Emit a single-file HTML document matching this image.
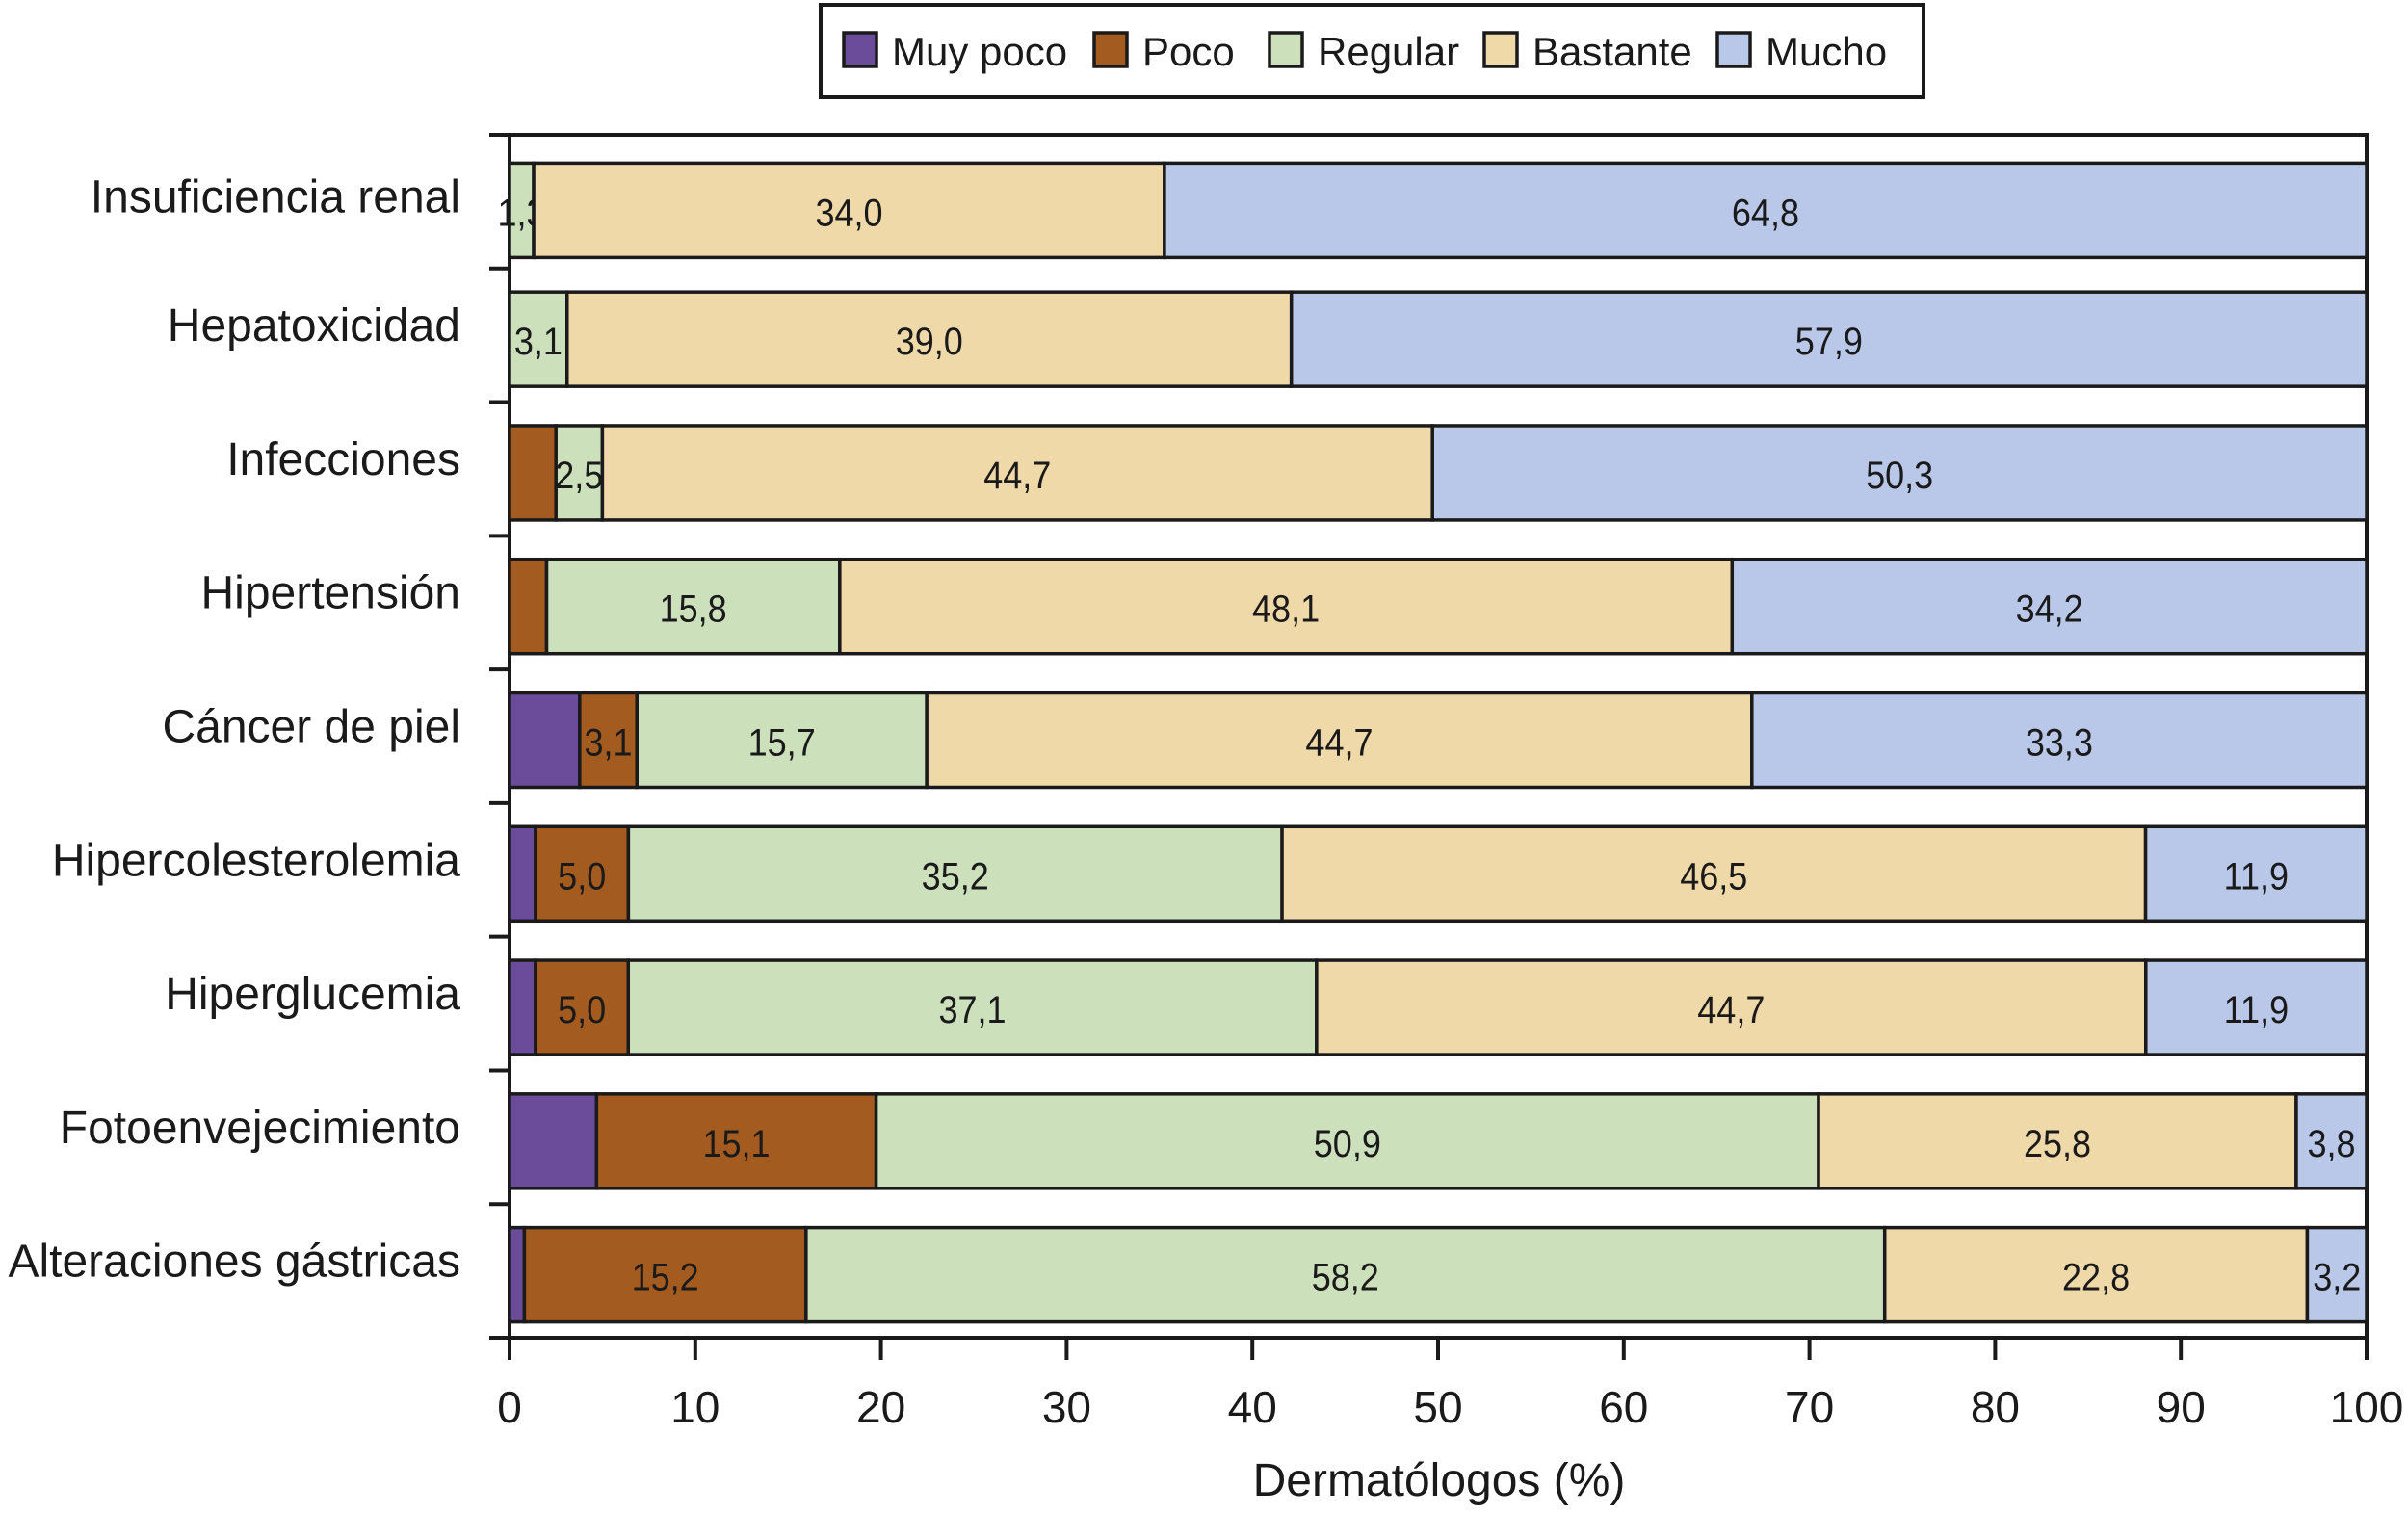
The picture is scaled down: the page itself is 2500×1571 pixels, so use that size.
<!DOCTYPE html>
<html><head><meta charset="utf-8"><style>
html,body{margin:0;padding:0;background:#fff;}
svg{display:block;font-family:"Liberation Sans",sans-serif;}
</style></head><body>
<svg id="chart" width="2500" height="1571" viewBox="0 0 2500 1571" xmlns="http://www.w3.org/2000/svg">
<g id="legend"></g>
<g id="plot"></g>
</svg>
<script>
const categories = ["Insuficiencia renal","Hepatoxicidad","Infecciones","Hipertensión","Cáncer de piel","Hipercolesterolemia","Hiperglucemia","Fotoenvejecimiento","Alteraciones gástricas"];
const seriesNames = ["Muy poco","Poco","Regular","Bastante","Mucho"];
const muyPoco = [0, 0, 0, 0, 3.8, 1.4, 1.4, 4.7, 0.8];
const poco = [0, 0, 2.5, 2.0, 3.1, 5.0, 5.0, 15.1, 15.2];
const regular = [1.3, 3.1, 2.5, 15.8, 15.7, 35.2, 37.1, 50.9, 58.2];
const bastante = [34.0, 39.0, 44.7, 48.1, 44.7, 46.5, 44.7, 25.8, 22.8];
const mucho = [64.8, 57.9, 50.3, 34.2, 33.3, 11.9, 11.9, 3.8, 3.2];
const labelMuyPoco = [false,false,false,false,false,false,false,false,false];
const labelPoco = [false,false,false,false,true,true,true,true,true];
const labelRegular = [true,true,true,true,true,true,true,true,true];
const labelBastante = [true,true,true,true,true,true,true,true,true];
const labelMucho = [true,true,true,true,true,true,true,true,true];
const xTicks = [0,10,20,30,40,50,60,70,80,90,100];

const colors = ["#6b4c9a","#a45b1f","#cce0bc","#f0d9a8","#b9c8e9"];
const series = [muyPoco, poco, regular, bastante, mucho];
const showLabel = [labelMuyPoco, labelPoco, labelRegular, labelBastante, labelMucho];
const NS = "http://www.w3.org/2000/svg";
const L = 529, R = 2457, T = 140, B = 1389;
const xS = v => L + (v / 100) * (R - L);
const band = (B - T) / categories.length;
const yC = i => T + band * (i + 0.5) + 4 + (i === 0 ? 5 : 0);
const barH = 98;
function mk(tag, attrs, parent){const e=document.createElementNS(NS,tag);for(const k in attrs)e.setAttribute(k,attrs[k]);parent.appendChild(e);return e;}
const plot = document.getElementById('plot');
const legend = document.getElementById('legend');
const fmt = v => v.toFixed(1).replace('.', ',');

const frame = mk('rect',{x:L,y:T,width:R-L,height:B-T,fill:'#fff',stroke:'#1a1a1a','stroke-width':4},plot);



categories.forEach((c,i)=>{
  let total = 0;
  series.forEach(s=>{ total += s[i]; });
  const norm = total > 100 ? 100 / total : 1;
  let acc = 0;
  const yc = yC(i);
  series.forEach((s,k)=>{
    const v = s[i];
    const w = v * norm;
    if (v > 0) {
      const r = mk('rect',{x:xS(acc),y:yc-barH/2,width:xS(acc+w)-xS(acc),height:barH,fill:colors[k],stroke:'#1a1a1a','stroke-width':3.5},plot);
      
      
      if (showLabel[k][i]) {
        const cx = (xS(acc)+xS(acc+w))/2;
        const t = mk('text',{transform:`translate(${cx},${yc+16}) scale(0.9,1)`,'text-anchor':'middle','font-size':40,fill:'#1a1a1a'},plot);
        t.textContent = fmt(v);
        
        
      }
    }
    acc += w;
  });
  const cl = mk('text',{x:478,y:yc+2,'text-anchor':'end','font-size':48,fill:'#1a1a1a'},plot);
  cl.textContent = c;
  
  
});

for (let i=0;i<=categories.length;i++){
  const y = T + band*i;
  const tk = mk('line',{x1:508,x2:L,y1:y,y2:y,stroke:'#1a1a1a','stroke-width':4},plot);
  
  
}
xTicks.forEach(v=>{
  const x = xS(v);
  const tk = mk('line',{x1:x,x2:x,y1:B,y2:B+23,stroke:'#1a1a1a','stroke-width':4},plot);
  
  
  const tl = mk('text',{x:x,y:1477,'text-anchor':'middle','font-size':46,fill:'#1a1a1a'},plot);
  tl.textContent = v;
  
  
});
const xt = mk('text',{x:1494,y:1553,'text-anchor':'middle','font-size':48,fill:'#1a1a1a'},plot);
xt.textContent = 'Dermatólogos (%)';



const lb = mk('rect',{x:852,y:5,width:1145,height:96,fill:'#fff',stroke:'#1a1a1a','stroke-width':4},legend);


const swX = [876,1136,1318,1541,1783];
seriesNames.forEach((n,k)=>{
  const sw = mk('rect',{x:swX[k],y:34,width:34,height:35,fill:colors[k],stroke:'#1a1a1a','stroke-width':3.5},legend);
  
  
  const t = mk('text',{x:swX[k]+50,y:68,'font-size':42,fill:'#1a1a1a'},legend);
  t.textContent = n;
  
  
});
</script>
</body></html>
